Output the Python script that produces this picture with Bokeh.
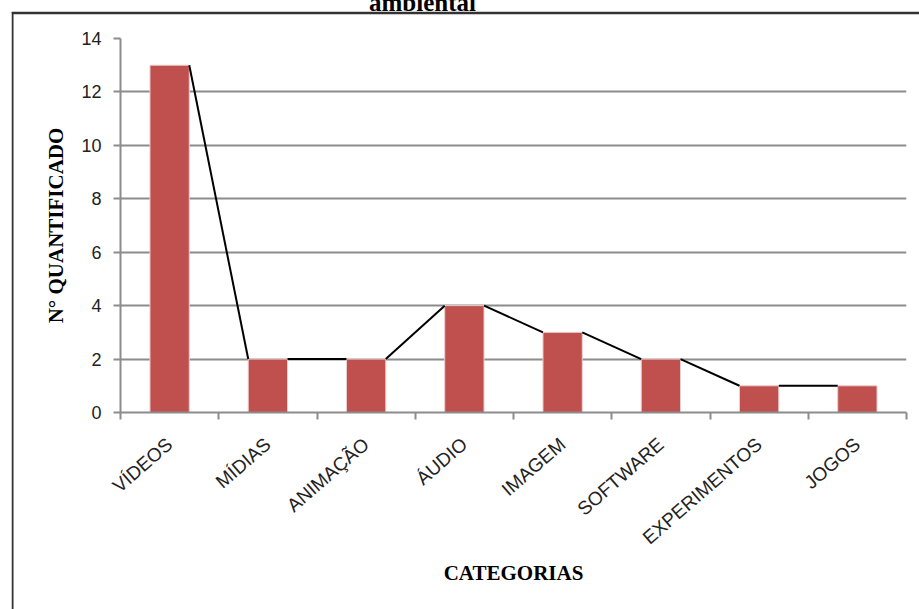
import math
from bokeh.plotting import figure
from bokeh.models import Range1d, FixedTicker, Label, ColumnDataSource
from bokeh.embed import file_html
from bokeh.resources import INLINE

categories = ["VÍDEOS", "MÍDIAS", "ANIMAÇÃO", "ÁUDIO", "IMAGEM", "SOFTWARE", "EXPERIMENTOS", "JOGOS"]
values = [13, 2, 2, 4, 3, 2, 1, 1]
y_ticks = [0, 2, 4, 6, 8, 10, 12, 14]
title_text = "ambiental"
x_title = "CATEGORIAS"
y_title = "N° QUANTIFICADO"

bar_w = 0.4
n = len(categories)
centers = [i + 0.5 for i in range(n)]
Y_MAX = 14

W, H = 919, 609
FRAME_LEFT, FRAME_RIGHT, FRAME_TOP, FRAME_BOTTOM = 120, 906, 38, 412

p = figure(width=W, height=H, output_backend="svg", toolbar_location=None,
           x_range=Range1d(0, n), y_range=Range1d(0, Y_MAX),
           min_border_left=FRAME_LEFT, min_border_right=W - FRAME_RIGHT,
           min_border_top=FRAME_TOP, min_border_bottom=H - FRAME_BOTTOM)
p.outline_line_color = None
p.background_fill_color = "white"
p.border_fill_color = "white"

src = ColumnDataSource(dict(x=centers, top=values))
p.vbar(x="x", top="top", width=bar_w, bottom=0, source=src,
       fill_color="#C0504D", line_color="#E9CFCF", line_width=1)

seg = ColumnDataSource(dict(
    x0=[centers[i] + bar_w / 2 for i in range(n - 1)],
    y0=values[:-1],
    x1=[centers[i + 1] - bar_w / 2 for i in range(n - 1)],
    y1=values[1:],
))
p.segment(x0="x0", y0="y0", x1="x1", y1="y1", source=seg, line_color="black", line_width=2)

# y axis
p.yaxis.ticker = FixedTicker(ticks=y_ticks)
p.yaxis.axis_line_color = "#8C8C8C"
p.yaxis.axis_line_width = 2
p.yaxis.major_tick_line_color = "#8C8C8C"
p.yaxis.major_tick_line_width = 2
p.yaxis.major_tick_out = 7
p.yaxis.major_tick_in = 0
p.yaxis.minor_tick_line_color = None
p.yaxis.major_label_text_font = "Liberation Sans"
p.yaxis.major_label_text_font_size = "18px"
p.yaxis.major_label_text_color = "#222222"
p.yaxis.major_label_standoff = 12
p.yaxis.axis_label = y_title
p.yaxis.axis_label_text_font = "Liberation Serif"
p.yaxis.axis_label_text_font_style = "bold"
p.yaxis.axis_label_text_font_size = "21px"
p.yaxis.axis_label_text_color = "black"
p.yaxis.axis_label_standoff = 10

# x axis
p.xaxis.ticker = FixedTicker(ticks=centers, minor_ticks=list(range(n + 1)))
p.xaxis.major_label_overrides = {c: lab for c, lab in zip(centers, categories)}
p.xaxis.major_label_orientation = math.radians(41)
p.xaxis.axis_line_color = "#8C8C8C"
p.xaxis.axis_line_width = 2
p.xaxis.major_tick_line_color = None
p.xaxis.major_tick_out = 0
p.xaxis.major_tick_in = 0
p.xaxis.minor_tick_line_color = "#8C8C8C"
p.xaxis.minor_tick_line_width = 2
p.xaxis.minor_tick_out = 7
p.xaxis.minor_tick_in = 0
p.xaxis.major_label_text_font = "Liberation Sans"
p.xaxis.major_label_text_font_size = "19px"
p.xaxis.major_label_text_color = "#222222"
p.xaxis.major_label_standoff = 22
p.xaxis.axis_label = x_title
p.xaxis.axis_label_text_font = "Liberation Serif"
p.xaxis.axis_label_text_font_style = "bold"
p.xaxis.axis_label_text_font_size = "21px"
p.xaxis.axis_label_text_color = "black"
p.xaxis.axis_label_standoff = 2

p.xgrid.grid_line_color = None
p.ygrid.ticker = FixedTicker(ticks=y_ticks)
p.ygrid.grid_line_color = "#8C8C8C"
p.ygrid.grid_line_width = 2


# helpers: canvas pixel -> frame data coordinates (annotations in side panels are not clipped)
def cx(px):
    return (px - FRAME_LEFT) * n / (FRAME_RIGHT - FRAME_LEFT)


def cy(py):
    return (FRAME_BOTTOM - py) * Y_MAX / (FRAME_BOTTOM - FRAME_TOP)


# outer chart border: thin empty label boxes (top edge and left edge)
top_line = Label(x=cx(12), y=cy(12), text=" ", text_font_size="1px",
                 text_align="left", text_baseline="top",
                 padding={"left": 0, "right": 930, "top": 0, "bottom": 0},
                 background_fill_color=None,
                 border_line_color="#333333", border_line_width=1.5)
left_line = Label(x=cx(12), y=cy(12), text=" ", text_font_size="1px",
                  text_align="left", text_baseline="top",
                  padding={"left": 0, "right": 0, "top": 0, "bottom": 620},
                  background_fill_color=None,
                  border_line_color="#333333", border_line_width=1.5)
# title, its upper part cut by the top edge as in the source image
title = Label(x=cx(422), y=cy(2), text=title_text, text_align="center",
              text_baseline="alphabetic", text_font="Liberation Serif",
              text_font_style="bold", text_font_size="25px", text_color="black")
p.add_layout(title, "above")
p.add_layout(top_line, "above")
p.add_layout(left_line, "left")

open("out.html", "w").write(file_html(p, INLINE))
